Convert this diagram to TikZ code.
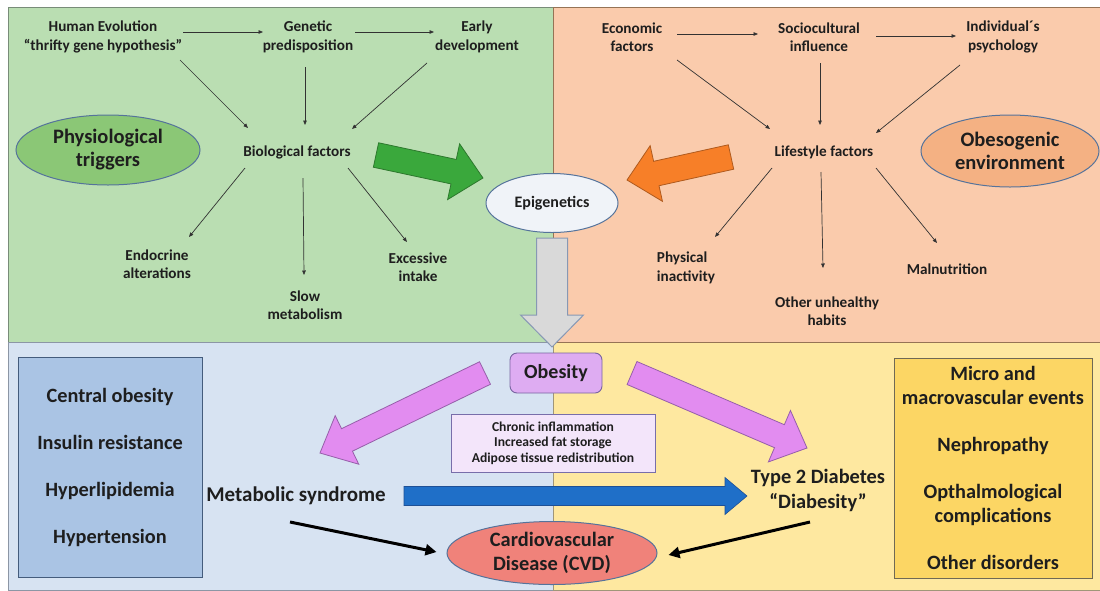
\documentclass[tikz,border=0pt]{standalone}
\usepackage{fontspec}
\setmainfont{Carlito}
\usetikzlibrary{arrows.meta,shapes.geometric}
\definecolor{qgreen}{RGB}{186,222,178}
\definecolor{qgreenb}{RGB}{120,140,120}
\definecolor{qorange}{RGB}{250,203,172}
\definecolor{qorangeb}{RGB}{150,115,85}
\definecolor{qblue}{RGB}{215,227,242}
\definecolor{qblueb}{RGB}{140,150,165}
\definecolor{qyellow}{RGB}{254,232,160}
\definecolor{qyellowb}{RGB}{160,150,120}
\definecolor{bbox}{RGB}{170,196,228}
\definecolor{ybox}{RGB}{252,214,100}
\definecolor{pgreen}{RGB}{139,199,118}
\definecolor{porange}{RGB}{244,177,131}
\definecolor{epifill}{RGB}{240,243,248}
\definecolor{ellb}{RGB}{85,115,155}
\definecolor{garrow}{RGB}{217,217,217}
\definecolor{garrowb}{RGB}{135,152,180}
\definecolor{grarrow}{RGB}{58,168,60}
\definecolor{grarrowb}{RGB}{45,120,45}
\definecolor{orarrow}{RGB}{247,127,40}
\definecolor{orarrowb}{RGB}{175,90,30}
\definecolor{pkarrow}{RGB}{226,140,240}
\definecolor{pkarrowb}{RGB}{150,95,170}
\definecolor{obfill}{RGB}{222,172,242}
\definecolor{obb}{RGB}{120,100,160}
\definecolor{cifill}{RGB}{243,229,250}
\definecolor{cib}{RGB}{120,110,170}
\definecolor{blarrow}{RGB}{31,111,200}
\definecolor{blarrowb}{RGB}{30,80,150}
\definecolor{cvdfill}{RGB}{240,130,122}
\definecolor{txt}{RGB}{30,30,30}
\definecolor{thinln}{RGB}{50,50,50}
% #1 style, #2 tail, #3 angle, #4 length, #5 body width, #6 head width, #7 head length
\newcommand\blockarr[7]{%
  \begin{scope}[shift={#2},rotate=#3]
    \draw[#1] (0,-#5/2) -- (#4-#7,-#5/2) -- (#4-#7,-#6/2) -- (#4,0)
      -- (#4-#7,#6/2) -- (#4-#7,#5/2) -- (0,#5/2) -- cycle;
  \end{scope}}
\begin{document}
\begin{tikzpicture}[x=1pt,y=-1pt,
  lbl/.style={font=\bfseries\fontsize{15.2}{18.5}\selectfont, align=center, inner sep=0pt, text=txt},
  big/.style={font=\bfseries\fontsize{20.5}{23}\selectfont, align=center, inner sep=0pt, text=txt},
  ell/.style={ellipse, draw=ellb, line width=1pt, inner sep=0pt, align=center, text=txt},
  boxn/.style={rectangle, draw=#1, line width=0.9pt, inner sep=0pt, align=center, text=txt},
  arr/.style={draw=thinln, line width=0.7pt, -{Triangle[length=4.5pt,width=3.6pt]}},
  blk/.style={draw=black, line width=3pt, -{Triangle[length=11pt,width=11pt]}}]
\useasboundingbox (0,0) rectangle (1100,590);
% quadrants
\filldraw[fill=qgreen, draw=qgreenb, line width=0.8pt] (8,7) rectangle (553,342);
\filldraw[fill=qorange, draw=qorangeb, line width=0.8pt] (553,7) rectangle (1100,342);
\filldraw[fill=qblue, draw=qblueb, line width=0.8pt] (8,342) rectangle (553,590);
\filldraw[fill=qyellow, draw=qyellowb, line width=0.8pt] (553,342) rectangle (1100,590);
\draw[qorangeb, line width=1pt] (553,342) -- (1100,342);

% block arrows
\blockarr{fill=grarrow, draw=grarrowb, line width=0.8pt}{(376,155)}{-12.13}{109.4}{25}{57}{30}
\blockarr{fill=orarrow, draw=orarrowb, line width=0.8pt}{(731,157)}{192.47}{106.5}{25}{57}{30}
\blockarr{fill=garrow, draw=garrowb, line width=1pt}{(552,238)}{-90}{109}{31}{63}{32}
\blockarr{fill=pkarrow, draw=pkarrowb, line width=0.8pt}{(485,373)}{205.87}{183.4}{25}{54}{30}
\blockarr{fill=pkarrow, draw=pkarrowb, line width=0.8pt}{(632,373)}{-23.2}{190.4}{25}{56}{30}
\blockarr{fill=blarrow, draw=blarrowb, line width=0.6pt}{(404,496)}{0}{343}{19}{37}{22}

% top-left labels
\node[lbl] (he) at (103,37) {Human Evolution\\“thrifty gene hypothesis”};
\node[lbl] (gp) at (308,37) {Genetic\\predisposition};
\node[lbl] (ed) at (477,37) {Early\\development};
\node[lbl] (bf) at (297,152) {Biological factors};
\node[lbl] (ea) at (157,264) {Endocrine\\alterations};
\node[lbl] (sm) at (305,305) {Slow\\metabolism};
\node[lbl] (ei) at (418,267) {Excessive\\intake};
\node[ell, fill=pgreen, minimum width=184, minimum height=70, font=\bfseries\fontsize{20.5}{23}\selectfont] (pt) at (108,150) {Physiological\\triggers};

\draw[arr] ([shift={(80,-5)}]he.center) -- ([shift={(-45,-5)}]gp.center);
\draw[arr] ([shift={(47,-5)}]gp.center) -- ([shift={(-43,-5)}]ed.center);
\draw[arr] ([shift={(77,23)}]he.center) -- ([shift={(-49,-24)}]bf.center);
\draw[arr] ([shift={(-3,30)}]gp.center) -- ([shift={(8,-27)}]bf.center);
\draw[arr] ([shift={(-50,26)}]ed.center) -- ([shift={(55,-23)}]bf.center);
\draw[arr] ([shift={(-52,16)}]bf.center) -- ([shift={(32,-27)}]ea.center);
\draw[arr] ([shift={(6,26)}]bf.center) -- ([shift={(-1,-30)}]sm.center);
\draw[arr] ([shift={(51,16)}]bf.center) -- ([shift={(-11,-25)}]ei.center);

% top-right labels
\node[lbl] (ef) at (632,37) {Economic\\factors};
\node[lbl] (sc) at (819,37) {Sociocultural\\influence};
\node[lbl] (ip) at (1003,37) {Individual´s\\psychology};
\node[lbl] (lf) at (824,152) {Lifestyle factors};
\node[lbl, align=left] (pi) at (686,268) {Physical\\inactivity};
\node[lbl] (ou) at (827,311) {Other unhealthy\\habits};
\node[lbl] (mn) at (947,269) {Malnutrition};
\node[ell, fill=porange, minimum width=178, minimum height=72, font=\bfseries\fontsize{20.5}{23}\selectfont] (oe) at (1010,151) {Obesogenic\\environment};

\draw[arr] ([shift={(45,-3)}]ef.center) -- ([shift={(-61,-3)}]sc.center);
\draw[arr] ([shift={(57,-1)}]sc.center) -- ([shift={(-47,-1)}]ip.center);
\draw[arr] ([shift={(45,23)}]ef.center) -- ([shift={(-54,-23)}]lf.center);
\draw[arr] ([shift={(1,26)}]sc.center) -- ([shift={(-4,-27)}]lf.center);
\draw[arr] ([shift={(-43,28)}]ip.center) -- ([shift={(52,-19)}]lf.center);
\draw[arr] ([shift={(-52,16)}]lf.center) -- ([shift={(29,-31)}]pi.center);
\draw[arr] ([shift={(-3,20)}]lf.center) -- ([shift={(-4,-43)}]ou.center);
\draw[arr] ([shift={(52,16)}]lf.center) -- ([shift={(-10,-26)}]mn.center);

% centre
\node[ell, fill=epifill, minimum width=132, minimum height=59, font=\bfseries\fontsize{16}{18}\selectfont] (epi) at (552,203) {Epigenetics};

% bottom
\node[boxn=ellb!80!black, fill=bbox, minimum width=184, minimum height=220, font=\bfseries\fontsize{20.3}{47}\selectfont] (ml) at (110,467) {Central obesity\\Insulin resistance\\Hyperlipidemia\\Hypertension};
\node[boxn=qyellowb!70!black, fill=ybox, minimum width=198, minimum height=220, font=\bfseries\fontsize{20.3}{24}\selectfont] (yl) at (993,468) {Micro and\\macrovascular events\\[23pt]Nephropathy\\[23pt]Opthalmological\\complications\\[23pt]Other disorders};
\node[boxn=obb, fill=obfill, rounded corners=7pt, minimum width=92, minimum height=40, font=\bfseries\fontsize{20}{22}\selectfont] (ob) at (556,373) {Obesity};
\node[boxn=cib, fill=cifill, minimum width=204, minimum height=58, font=\bfseries\fontsize{13.6}{15.5}\selectfont] (ci) at (553,443) {Chronic inflammation\\Increased fat storage\\Adipose tissue redistribution};
\node[big, font=\bfseries\fontsize{21}{23}\selectfont] (ms) at (296,496) {Metabolic syndrome};
\node[big, font=\bfseries\fontsize{20.4}{25}\selectfont] (t2) at (818,490) {Type 2 Diabetes\\“Diabesity”};
\node[ell, fill=cvdfill, minimum width=210, minimum height=63, font=\bfseries\fontsize{20.4}{24}\selectfont] (cvd) at (552,553) {Cardiovascular\\Disease (CVD)};

\draw[blk] ([shift={(-6,26)}]ms.center) -- ([shift={(-10,-1)}]cvd.west);
\draw[blk] ([shift={(-8,32)}]t2.center) -- ([shift={(11,2)}]cvd.east);
\end{tikzpicture}
\end{document}
